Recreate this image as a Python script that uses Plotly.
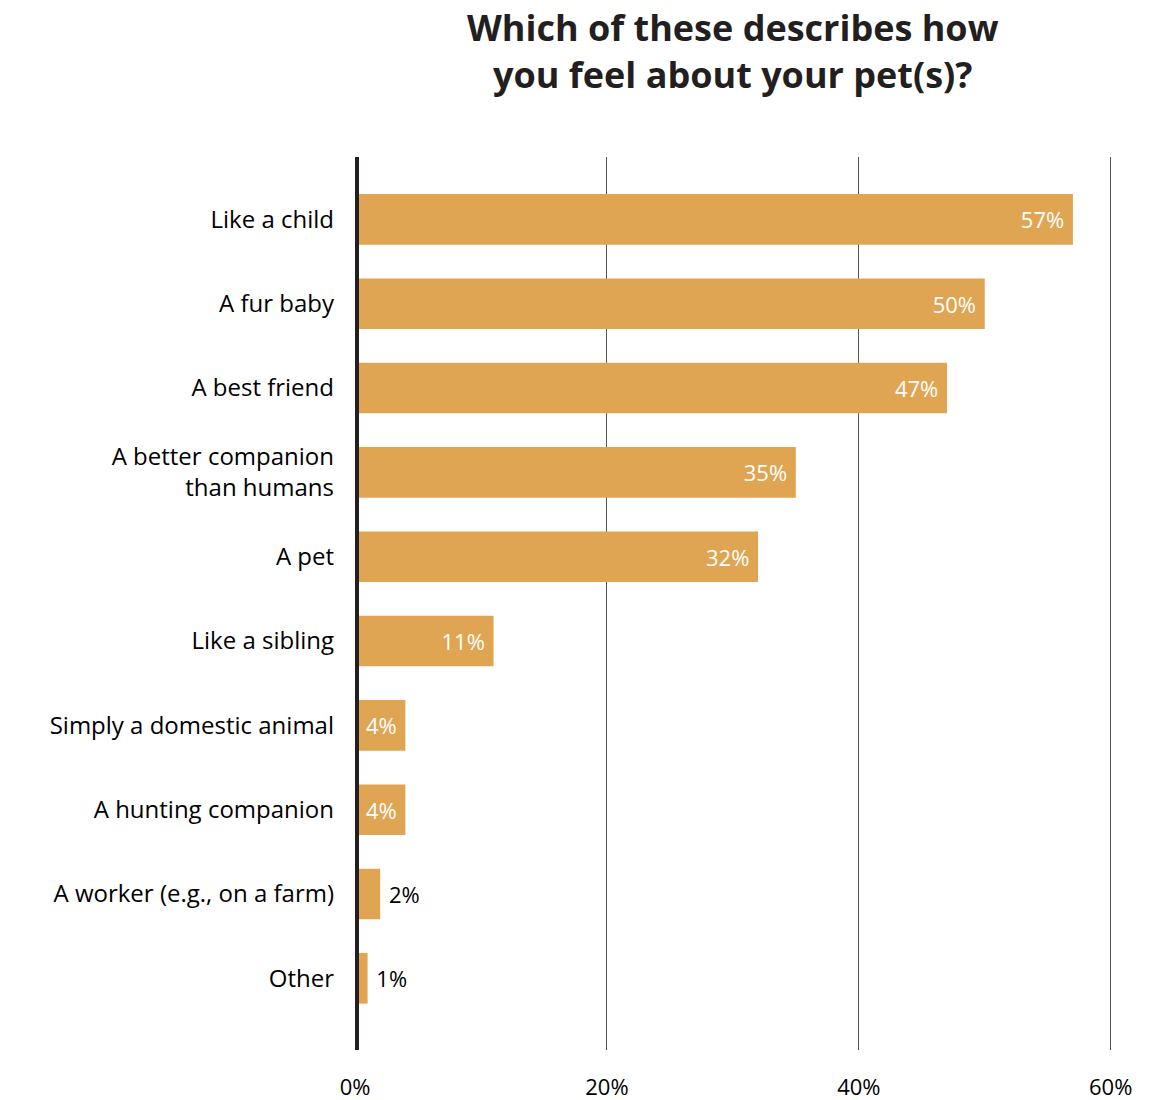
import plotly.graph_objects as go

# Survey answers, shown top to bottom
categories = [
    "Like a child",
    "A fur baby",
    "A best friend",
    "A better companion<br>than humans",
    "A pet",
    "Like a sibling",
    "Simply a domestic animal",
    "A hunting companion",
    "A worker (e.g., on a farm)",
    "Other",
]
shares = [57, 50, 47, 35, 32, 11, 4, 4, 2, 1]
x_ticks = [0, 20, 40, 60]
x_tick_labels = ["0%", "20%", "40%", "60%"]

BAR = "#E0A552"
INK = "#231F20"
FONT = "Open Sans"

# Small bars get their label outside the bar, the rest inside at the end
positions = ["outside" if v < 3 else "inside" for v in shares]
labels = [
    ("\u00a0" + f"{v}%") if v < 3 else (f"{v}%" + "\u00a0")
    for v in shares
]

fig = go.Figure(
    go.Bar(
        x=shares,
        y=categories,
        orientation="h",
        marker=dict(color=BAR, line=dict(width=0)),
        text=labels,
        textposition=positions,
        insidetextanchor="end",
        textangle=0,
        insidetextfont=dict(color="white", size=22, family=FONT),
        outsidetextfont=dict(color="black", size=22, family=FONT),
        cliponaxis=False,
        hoverinfo="skip",
    )
)

PLOT_LEFT, PLOT_TOP, PLOT_BOTTOM = 355, 157, 1050
X_MAX = 60.5  # a little past 60 so the last gridline is kept
plot_w = (1111 - PLOT_LEFT) * X_MAX / 60
plot_h = PLOT_BOTTOM - PLOT_TOP

fig.update_layout(
    width=1166,
    height=1100,
    margin=dict(l=PLOT_LEFT, r=1166 - PLOT_LEFT - plot_w, t=PLOT_TOP, b=1100 - PLOT_BOTTOM),
    paper_bgcolor="white",
    plot_bgcolor="white",
    bargap=0.4,
    showlegend=False,
    font=dict(family=FONT, color="black"),
    xaxis=dict(
        range=[0, X_MAX],
        tickvals=x_ticks,
        ticktext=x_tick_labels,
        showgrid=True,
        gridcolor="#555555",
        gridwidth=1,
        zeroline=False,
        showline=False,
        ticks="",
        automargin=False,
        ticklabelstandoff=22,
        tickfont=dict(size=22, color="black", family=FONT),
    ),
    yaxis=dict(
        type="category",
        range=[9.85, -0.74],
        showgrid=False,
        zeroline=False,
        showline=False,
        ticks="",
        automargin=False,
        ticklabelstandoff=20,
        tickfont=dict(size=24, color="black", family=FONT),
    ),
    shapes=[
        dict(
            type="line",
            xref="x",
            yref="paper",
            x0=0,
            x1=0,
            y0=0,
            y1=1,
            layer="above",
            line=dict(color=INK, width=8),
        )
    ],
    annotations=[
        dict(
            text="<b>Which of these describes how<br>you feel about your pet(s)?</b>",
            xref="paper",
            yref="paper",
            x=(733 - PLOT_LEFT) / plot_w,
            y=1 + (PLOT_TOP - 51) / plot_h,
            xanchor="center",
            yanchor="middle",
            showarrow=False,
            align="center",
            font=dict(size=36, color=INK, family=FONT),
        )
    ],
)

fig.write_html("out.html")
